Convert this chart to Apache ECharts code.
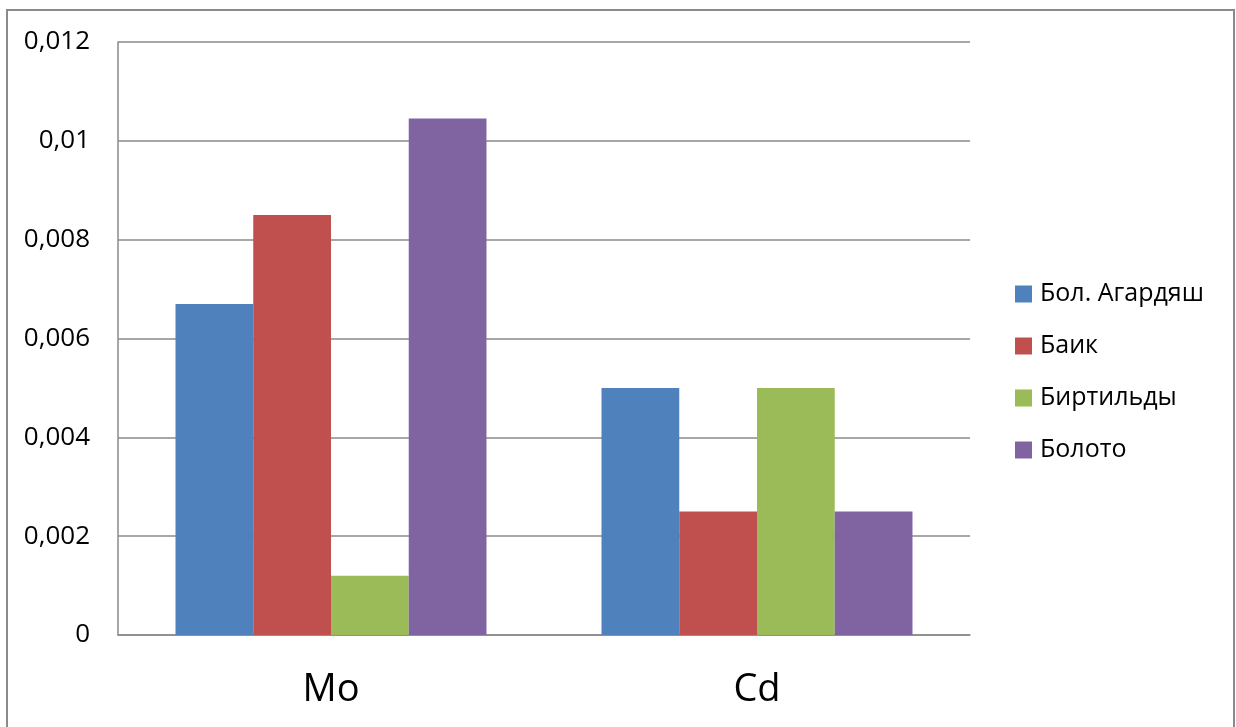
<!DOCTYPE html>
<html>
<head>
<meta charset="utf-8">
<script src="https://cdn.jsdelivr.net/npm/echarts@6/dist/echarts.min.js"></script>
<style>
  html, body { margin: 0; padding: 0; background: #fff; }
  #chart { width: 1236px; height: 727px; }
</style>
</head>
<body>
<div id="chart"></div>
<script>
// Element concentrations by site
const categories = ['Mo', 'Cd'];
const seriesNames = ['Бол. Агардяш', 'Баик', 'Биртильды', 'Болото'];
const bolAgardyash = [0.0067, 0.005];
const baik = [0.0085, 0.0025];
const birtildy = [0.0012, 0.005];
const boloto = [0.01045, 0.0025];
const yTicks = { min: 0, max: 0.012, interval: 0.002 };
const colors = ['#4F81BD', '#C0504D', '#9BBB59', '#8064A2'];

const values = [bolAgardyash, baik, birtildy, boloto];
const font = '"Open Sans", "Noto Sans", sans-serif';

const chart = echarts.init(document.getElementById('chart'));
chart.setOption({
  animation: false,
  color: colors,
  graphic: [{
    type: 'rect',
    shape: { x: 7, y: 10, width: 1227, height: 740 },
    style: { fill: 'none', stroke: '#8a8a8a', lineWidth: 2 },
    silent: true
  }],
  grid: { left: 118, right: 266, top: 42, bottom: 92 },
  legend: {
    orient: 'vertical',
    left: 1015,
    top: 281,
    padding: 0,
    itemWidth: 17,
    itemHeight: 17,
    itemGap: 26,
    icon: 'rect',
    textStyle: {
      fontFamily: font, fontSize: 25, color: '#000',
      lineHeight: 26, padding: [0, 0, 0, 3]
    },
    data: seriesNames
  },
  xAxis: {
    type: 'category',
    data: categories,
    axisLine: { lineStyle: { color: '#8a8a8a', width: 1.5 } },
    axisTick: { show: false },
    axisLabel: { fontFamily: font, fontSize: 38, color: '#000', margin: 36 }
  },
  yAxis: {
    type: 'value',
    min: yTicks.min,
    max: yTicks.max,
    interval: yTicks.interval,
    axisLine: { show: true, lineStyle: { color: '#8a8a8a', width: 1.5 } },
    axisTick: { show: false },
    splitLine: { lineStyle: { color: '#8a8a8a', width: 1.5 } },
    axisLabel: {
      fontFamily: font, fontSize: 26, color: '#000', margin: 28,
      formatter: v => parseFloat(v.toFixed(4)).toString().replace('.', ',')
    }
  },
  series: seriesNames.map((name, i) => ({
    name,
    type: 'bar',
    data: values[i],
    barGap: '0%',
    barCategoryGap: '27%'
  }))
});
</script>
</body>
</html>
